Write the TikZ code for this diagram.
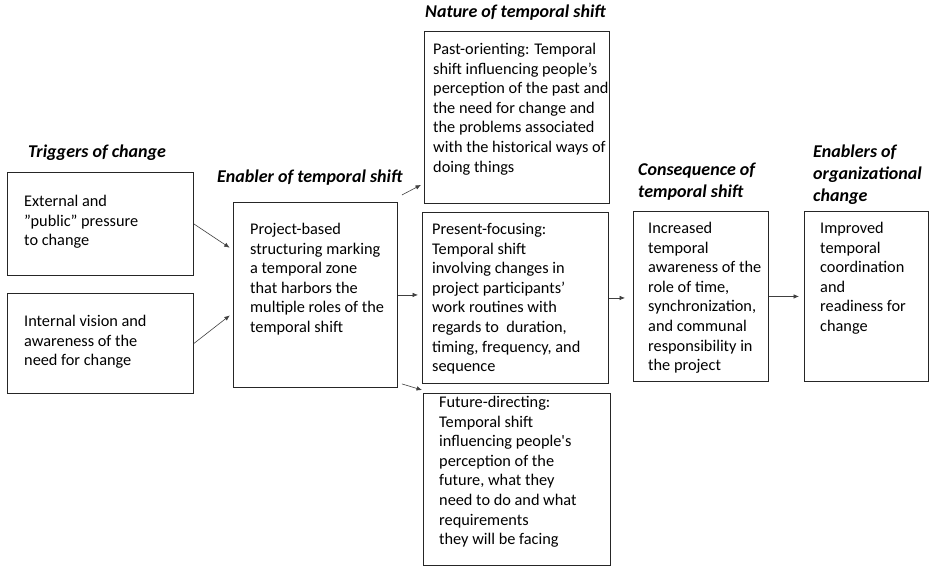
\documentclass[tikz,border=0pt]{standalone}
\usepackage{fontspec}
\setmainfont{Carlito}
\usetikzlibrary{positioning,arrows.meta}
\tikzset{%
  block/.style = {draw=black!85, line width=0.9pt, rectangle, anchor=north west,
    inner sep=0pt},
  txt/.style   = {align=left, inner sep=0pt, font=\fontsize{16.3}{19.6}\selectfont},
  head/.style  = {align=left, inner sep=0pt, anchor=west,
    font=\fontsize{18}{22}\selectfont\bfseries\itshape}, % column titles
  link/.style  = {-{Latex[length=5.5pt,width=4.5pt]}, draw=black!75, line width=0.6pt}
}

\begin{document}
\begin{tikzpicture}[x=1pt, y=-1pt]
        \useasboundingbox (0,0) rectangle (932,568);
        % boxes
        \node [block, minimum width=186pt, minimum height=103pt] (ext) at (7,172) {};
        \node [block, minimum width=186pt, minimum height=100pt] (int) at (7,293) {};
        \node [block, minimum width=164pt, minimum height=185pt] (enabler) at (233,202) {};
        \node [block, minimum width=185pt, minimum height=172pt] (past) at (424,31) {};
        \node [block, minimum width=186pt, minimum height=171pt] (present) at (422,212) {};
        \node [block, minimum width=187pt, minimum height=172pt] (future) at (423,393) {};
        \node [block, minimum width=135pt, minimum height=170pt] (cons) at (633,211) {};
        \node [block, minimum width=124pt, minimum height=170pt] (org) at (804,211) {};
        % texts
        \node [txt, below right=23pt and 17pt of ext.north west] (extTxt)
            {External and\\”public” pressure\\to change};
        \node [txt, below right=22pt and 17pt of int.north west] (intTxt)
            {Internal vision and\\awareness of the\\need for change};
        \node [txt, below right=21pt and 17pt of enabler.north west] (enablerTxt)
            {Project-based\\structuring marking\\a temporal zone\\that harbors the\\multiple roles of the\\temporal shift};
        \node [txt, below right=12pt and 9pt of past.north west] (pastTxt)
            {Past-orienting: Temporal\\shift influencing people’s\\perception of the past and\\the need for change and\\the problems associated\\with the historical ways of\\doing things};
        \node [txt, below right=11pt and 10pt of present.north west] (presentTxt)
            {Present-focusing:\\Temporal shift\\involving changes in\\project participants’\\work routines with\\regards to\ \ duration,\\timing, frequency, and\\sequence};
        \node [txt, below right=3pt and 16pt of future.north west] (futureTxt)
            {Future-directing:\\Temporal shift\\influencing people\textquotesingle s\\perception of the\\future, what they\\need to do and what\\requirements\\they will be facing};
        \node [txt, below right=11pt and 15pt of cons.north west] (consTxt)
            {Increased\\temporal\\awareness of the\\role of time,\\synchronization,\\and communal\\responsibility in\\the project};
        \node [txt, below right=11pt and 16pt of org.north west] (orgTxt)
            {Improved\\temporal\\coordination\\and\\readiness for\\change};
        % titles
        \node [head] (trigHead) at (28,153) {Triggers of change};
        \node [head] (enabHead) at (217,178) {Enabler of temporal shift};
        \node [head] (natHead) at (425,13) {Nature of temporal shift};
        \node [head] (consHead) at (638,182) {Consequence of\\temporal shift};
        \node [head] (orgHead) at (813,175) {Enablers of\\organizational\\change};
        % arrows
        \draw[link, shorten >=4pt] (ext.east) -- ([yshift=45pt]enabler.west);
        \draw[link, shorten >=4pt] (int.east) -- ([yshift=-18pt]enabler.west);
        \draw[link] ([xshift=4pt,yshift=7pt]enabler.north east) -- ([xshift=-3pt,yshift=19pt]past.south west);
        \draw[link, shorten >=4pt] (enabler.east) -- (enabler.east -| present.west);
        \draw[link] ([xshift=4pt,yshift=4pt]enabler.south east) -- ([xshift=-1pt,yshift=3pt]future.north west);
        \draw[link, shorten >=8pt] (present.east) -- (present.east -| cons.west);
        \draw[link, shorten >=5pt] (cons.east) -- (cons.east -| org.west);
\end{tikzpicture}
\end{document}
